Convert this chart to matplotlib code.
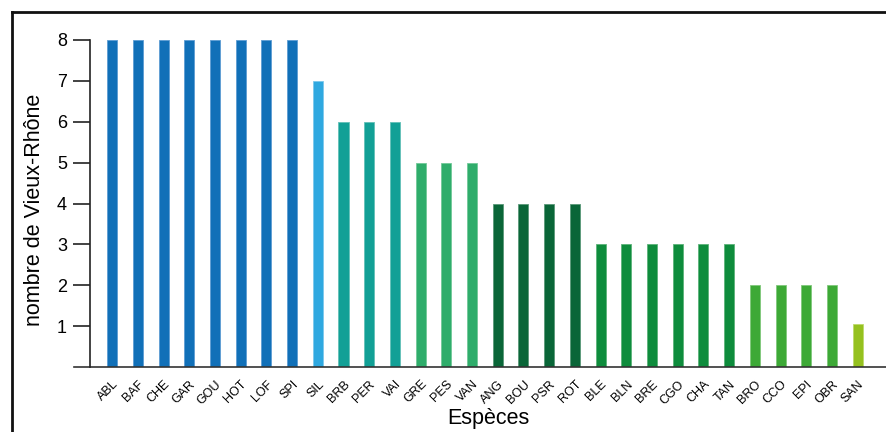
import matplotlib
matplotlib.use("Agg")
import matplotlib.pyplot as plt
from matplotlib.lines import Line2D
import numpy as np

plt.rcParams['font.family'] = ['Liberation Sans', 'DejaVu Sans']

species = ["ABL", "BAF", "CHE", "GAR", "GOU", "HOT", "LOF", "SPI", "SIL",
           "BRB", "PER", "VAI", "GRE", "PES", "VAN", "ANG", "BOU", "PSR", "ROT",
           "BLE", "BLN", "BRE", "CGO", "CHA", "TAN", "BRO", "CCO", "EPI", "OBR", "SAN"]
counts = [8, 8, 8, 8, 8, 8, 8, 8, 7,
          6, 6, 6, 5, 5, 5, 4, 4, 4, 4,
          3, 3, 3, 3, 3, 3, 2, 2, 2, 2, 1.05]
groups = ["g8"] * 8 + ["g7"] + ["g6"] * 3 + ["g5"] * 3 + ["g4"] * 4 + ["g3"] * 6 + ["g2"] * 4 + ["g1"]
group_colors = {"g8": "#1170B8", "g7": "#2FA8E0", "g6": "#12A096", "g5": "#2FAD6B",
                "g4": "#0A6638", "g3": "#0E8C3C", "g2": "#3DA936", "g1": "#95C11F"}
edge_colors = {"g8": "#5C9CD3", "g7": "#7CC8EC", "g6": "#62C0B8", "g5": "#72C898",
               "g4": "#5A9878", "g3": "#5CB278", "g2": "#80C87A", "g1": "#BEDA6C"}
yticks = [1, 2, 3, 4, 5, 6, 7, 8]

fig = plt.figure(figsize=(8.87, 4.32), dpi=100)
ax = fig.add_axes([90 / 887, 1 - 367 / 432, 1 - 90 / 887, (367 - 40) / 432])

x = np.arange(len(species))
ax.bar(x, counts, width=0.39,
       color=[group_colors[g] for g in groups],
       edgecolor=[edge_colors[g] for g in groups], linewidth=0.6)

ax.set_xlim(-0.86, len(species) - 1 + 1.14)
ax.set_ylim(0, 8)
ax.set_yticks(yticks)
ax.set_yticklabels([str(v) for v in yticks], fontsize=13)
ax.tick_params(axis='y', length=12, width=1.2, pad=4.5, color='#222222')
ax.set_xticks(x)
ax.set_xticklabels(species, rotation=45, ha='right', rotation_mode='anchor', fontsize=9)
ax.tick_params(axis='x', length=0, pad=8)

for s in ['top', 'right', 'bottom']:
    ax.spines[s].set_visible(False)
ax.spines['left'].set_linewidth(1.2)
ax.spines['left'].set_color('#222222')

# baseline extending left to tick ends
ax.add_line(Line2D([-16 / 797, 1.0], [0, 0], transform=ax.transAxes,
                   color='#333333', linewidth=1.2, clip_on=False))

ax.set_ylabel("nombre de Vieux-Rhône", fontsize=15.5)
ax.set_xlabel("Espèces", fontsize=15.5, labelpad=1)
ax.yaxis.set_label_coords(-0.056, 0.48)

# outer frame (partially cropped)
fig.add_artist(Line2D([12 / 887, 12 / 887], [0, 1 - 12 / 432], transform=fig.transFigure,
                      color='#111111', linewidth=2))
fig.add_artist(Line2D([12 / 887, 1], [1 - 12 / 432, 1 - 12 / 432], transform=fig.transFigure,
                      color='#111111', linewidth=2))

fig.savefig("out.png", dpi=100)
